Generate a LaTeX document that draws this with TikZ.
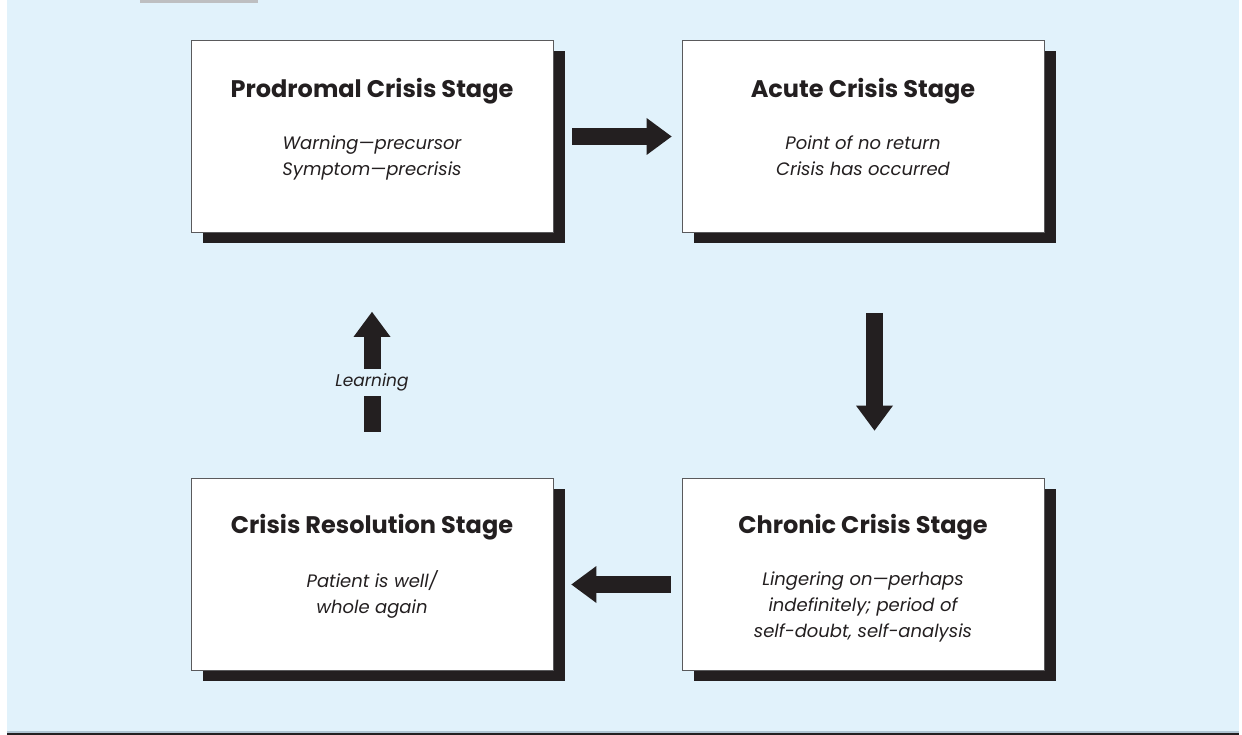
\documentclass[tikz,border=0pt]{standalone}
\usepackage{fontspec}
\setmainfont{Poppins}
\usetikzlibrary{arrows.meta,positioning,shadows}

\definecolor{panelblue}{RGB}{225,242,251}
\definecolor{tabgrey}{RGB}{190,191,193}
\definecolor{inkblack}{RGB}{35,31,32}
\definecolor{boxgrey}{RGB}{90,90,92}
\definecolor{ruleblue}{RGB}{176,196,210}

\begin{document}
\begin{tikzpicture}[
  x=1pt, y=-1pt,
  stage/.style={draw=boxgrey, fill=white, line width=0.8pt, inner sep=0pt,
    minimum width=362pt, minimum height=192pt,
    drop shadow={shadow xshift=11.5pt, shadow yshift=-11pt, fill=inkblack, opacity=1}},
  heading/.style={anchor=base, inner sep=0pt, text=inkblack,
    font=\fontsize{24}{28}\selectfont\bfseries},
  detail/.style={anchor=north, inner sep=0pt, align=center, text=inkblack,
    font=\fontsize{18}{26}\selectfont\itshape},
  bigarrow/.style={draw=inkblack, line width=17pt,
    -{Triangle[width=37pt, length=25pt, line width=0pt]}}
]
\useasboundingbox (0,0) rectangle (1242,735);
\fill[panelblue] (7,0) rectangle (1239,733);
\fill[tabgrey] (140,0) rectangle (258,3);
\draw[ruleblue, line width=2pt] (7,732) -- (1239,732);
\draw[inkblack, line width=2pt] (7,734) -- (1239,734);

\node[stage] (prodromal) at (372,136.5) {};
\node[stage] (acute) at (863,136.5) {};
\node[stage] (chronic) at (863,574) {};
\node[stage] (resolution) at (372,574) {};

\node[heading] (prodromal-title) at ([yshift=-57pt]prodromal.north) {Prodromal Crisis Stage};
\node[detail] (prodromal-text) at ([yshift=-90.8pt]prodromal.north)
  {\strut Warning---precursor\\Symptom---precrisis};
\node[heading] (acute-title) at ([yshift=-57pt]acute.north) {Acute Crisis Stage};
\node[detail] (acute-text) at ([yshift=-90.8pt]acute.north)
  {\strut Point of no return\\Crisis has occurred};
\node[heading] (chronic-title) at ([yshift=-56pt]chronic.north) {Chronic Crisis Stage};
\node[detail] (chronic-text) at ([yshift=-89.8pt]chronic.north)
  {\strut Lingering on---perhaps\\indefinitely; period of\\self-doubt, self-analysis};
\node[heading] (resolution-title) at ([yshift=-56pt]resolution.north) {Crisis Resolution Stage};
\node[detail] (resolution-text) at ([yshift=-91.8pt]resolution.north)
  {\strut Patient is well/\\whole again};

\draw[bigarrow] ([xshift=19pt]prodromal.east) -- ([xshift=-10pt]acute.west);
\draw[bigarrow] ([xshift=11.5pt,yshift=-80pt]acute.south) -- ([xshift=11.5pt,yshift=47pt]chronic.north);
\draw[bigarrow] ([xshift=-11pt,yshift=-10.5pt]chronic.west) -- ([xshift=18pt,yshift=-10.5pt]resolution.east);
\draw[bigarrow] ([yshift=46pt]resolution.north) --
  node[pos=.41, fill=panelblue, inner xsep=3pt, inner ysep=5pt, text=inkblack,
       font=\fontsize{17}{26}\selectfont\itshape] (learning) {Learning}
  ([yshift=-79pt]prodromal.south);
\end{tikzpicture}
\end{document}
